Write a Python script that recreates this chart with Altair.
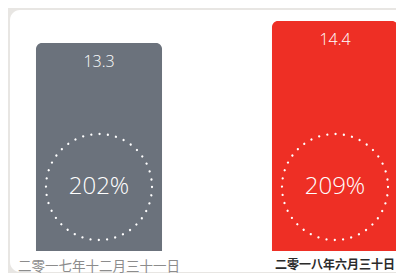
import altair as alt
import pandas as pd

# ---- data ----
dates = ["二零一七年十二月三十一日", "二零一八年六月三十日"]
values = [13.3, 14.4]
ratios = ["202%", "209%"]
bar_colors = ["#6b727c", "#ee2f25"]

df = pd.DataFrame({"date": dates, "value": values, "ratio": ratios})

W, H = 388, 243
is_last = f"datum.value == '{dates[1]}'"

x_enc = alt.X(
    "date:N",
    sort=dates,
    scale=alt.Scale(paddingInner=0.466, paddingOuter=0.1186, align=0.5, range=[0, 418]),
    axis=alt.Axis(
        title=None,
        domain=False,
        ticks=False,
        grid=False,
        labelAngle=0,
        labelPadding=8,
        labelBaseline="top",
        labelFont="Noto Sans CJK SC",
        labelLimit=400,
        zindex=1,
        labelFontSize=alt.condition(is_last, alt.value(12), alt.value(13.5)),
        labelColor=alt.condition(is_last, alt.value("#2b2b2b"), alt.value("#8c8c8c")),
        labelFontWeight=alt.condition(is_last, alt.value("bold"), alt.value("normal")),
    ),
)
y_scale = alt.Scale(domain=[2.9, 15.05], zero=False, nice=False)

card = alt.Chart(alt.Data(values=[{}])).mark_rect(
    color="white", cornerRadius=10
).encode(
    x=alt.value(2), x2=alt.value(440), y=alt.value(2), y2=alt.value(264)
)

base = alt.Chart(df)

bars = base.mark_bar(cornerRadiusTopLeft=6, cornerRadiusTopRight=6).encode(
    x=x_enc,
    y=alt.Y("value:Q", scale=y_scale, axis=None, stack=None),
    y2=alt.value(H),
    color=alt.Color("date:N", scale=alt.Scale(domain=dates, range=bar_colors), legend=None),
)

val_text = base.mark_text(
    color="white", fontSize=16, font="Open Sans", fontWeight=300, dy=19, baseline="middle"
).encode(
    x=x_enc,
    y=alt.Y("value:Q", scale=y_scale, axis=None),
    text=alt.Text("value:Q", format=".1f"),
)

rings = base.mark_point(
    shape="circle", size=11236, filled=False, color="white", opacity=1,
    strokeWidth=2.3, strokeDash=[0.001, 8.33], strokeCap="round"
).encode(
    x=x_enc,
    y=alt.value(179),
)

pct_text = base.mark_text(
    color="white", fontSize=24, font="Open Sans", fontWeight=300, baseline="middle"
).encode(
    x=x_enc,
    y=alt.value(179),
    text="ratio:N",
)

chart = alt.layer(card, bars, val_text, rings, pct_text).properties(
    width=W, height=H,
    autosize=alt.AutoSizeParams(type="none"),
    padding={"left": 0, "top": 0, "right": 0, "bottom": 22},
).configure(background="#e8e6e3").configure_view(stroke=None)

chart.save("out.html", embed_options={"renderer": "svg", "actions": False})
